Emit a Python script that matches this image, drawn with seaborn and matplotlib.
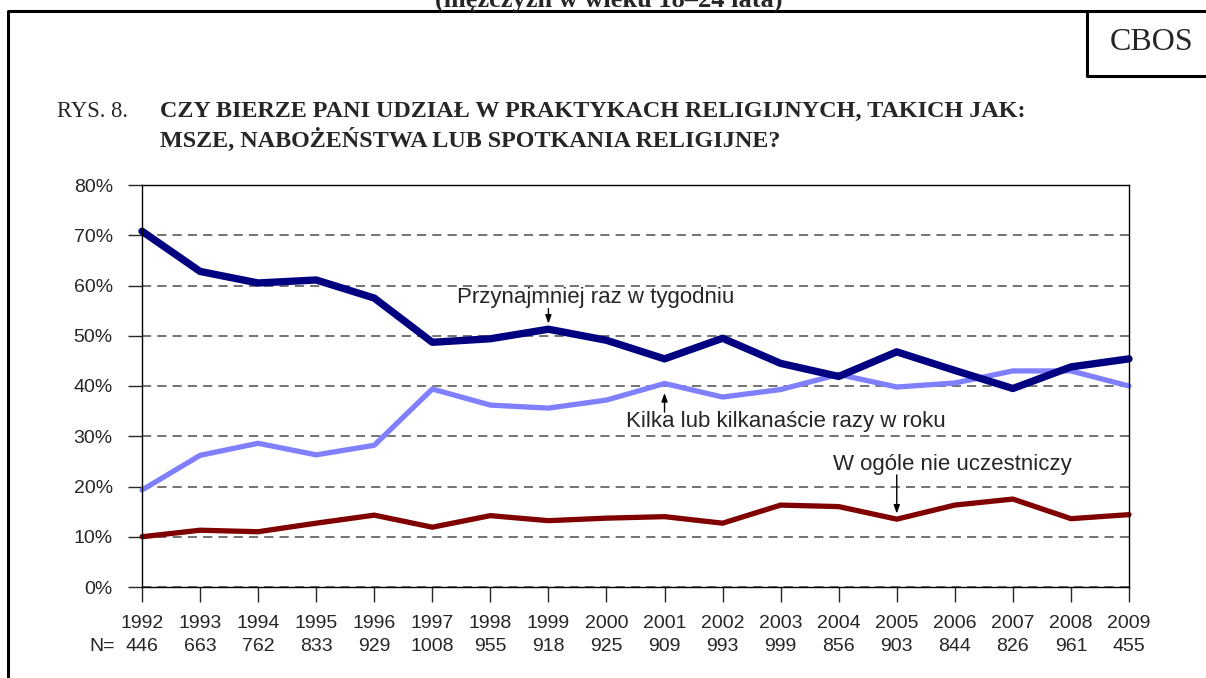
import matplotlib
matplotlib.use('Agg')
import matplotlib.pyplot as plt
from matplotlib.lines import Line2D
import pandas as pd
import seaborn as sns

# Data (percent)
years = list(range(1992, 2010))
n_sizes = [446, 663, 762, 833, 929, 1008, 955, 918, 925, 909, 993, 999, 856, 903, 844, 826, 961, 455]
weekly = [70.8, 62.8, 60.5, 61.1, 57.5, 48.7, 49.4, 51.3, 49.1, 45.4, 49.5, 44.5, 41.9, 46.8, 43.1, 39.5, 43.8, 45.4]
few_times = [19.3, 26.2, 28.6, 26.3, 28.2, 39.4, 36.2, 35.6, 37.2, 40.5, 37.8, 39.3, 42.3, 39.8, 40.6, 43.0, 43.0, 40.0]
never = [10.0, 11.3, 11.0, 12.7, 14.3, 11.9, 14.2, 13.2, 13.7, 14.0, 12.7, 16.3, 16.0, 13.5, 16.3, 17.5, 13.6, 14.4]
y_ticks = [0, 10, 20, 30, 40, 50, 60, 70, 80]

series_names = ['Przynajmniej raz w tygodniu', 'Kilka lub kilkanaście razy w roku', 'W ogóle nie uczestniczy']
colors = {series_names[0]: '#000080', series_names[1]: '#8080FF', series_names[2]: '#800000'}
widths = {series_names[0]: 5.3, series_names[1]: 3.8, series_names[2]: 3.8}

df = pd.DataFrame({
    'rok': years * 3,
    'proc': weekly + few_times + never,
    'seria': [series_names[0]] * 18 + [series_names[1]] * 18 + [series_names[2]] * 18,
})

sns.set_style('white')
plt.rcParams['font.family'] = ['Liberation Sans', 'DejaVu Sans']

W, H = 1206, 678
fig = plt.figure(figsize=(W / 100, H / 100), dpi=100)

def fx(px):
    return px / W

def fy(py):
    return 1 - py / H

ax = fig.add_axes([fx(142), fy(587), (1129 - 142) / W, (587 - 185) / H])

for name in [series_names[1], series_names[2], series_names[0]]:
    sub = df[df['seria'] == name]
    sns.lineplot(data=sub, x='rok', y='proc', color=colors[name], linewidth=widths[name],
                 ax=ax, legend=False, clip_on=False, solid_joinstyle='round', solid_capstyle='round')

ax.set_xlim(1992, 2009)
ax.set_ylim(0, 80)
ax.set_xlabel('')
ax.set_ylabel('')
ax.set_yticks(y_ticks)
ax.set_yticklabels([f'{v}%' for v in y_ticks])
ax.set_xticks(years)
ax.set_xticklabels([str(y) for y in years])
ax.tick_params(axis='y', direction='out', length=10, width=1, pad=11, labelsize=14, left=True)
ax.tick_params(axis='x', direction='out', length=11, width=1, pad=9, labelsize=14, bottom=True)
ax.yaxis.grid(True, linestyle=(0, (6, 4)), color='#4d4d4d', linewidth=1.1)
ax.xaxis.grid(False)
for sp in ax.spines.values():
    sp.set_color('black')
    sp.set_linewidth(1)

# N row under the years
xform = ax.get_xaxis_transform()
for yr, n in zip(years, n_sizes):
    ax.text(yr, -0.147, str(n), transform=xform, ha='center', va='center', fontsize=14)
ax.text(-0.0275, -0.147, 'N=', transform=ax.transAxes, ha='right', va='center', fontsize=14)

# series labels with arrows
arrow = dict(arrowstyle='-|>,head_length=0.5,head_width=0.18', color='black', lw=1, shrinkA=0, shrinkB=0)
ax.text(1997.43, 56.5, series_names[0], fontsize=16, va='baseline', ha='left')
ax.annotate('', xy=(1999, 52.4), xytext=(1999, 55.4), arrowprops=arrow)
ax.text(2000.34, 31.8, series_names[1], fontsize=16, va='baseline', ha='left')
ax.annotate('', xy=(2001, 38.6), xytext=(2001, 34.8), arrowprops=arrow)
ax.text(2003.9, 23.2, series_names[2], fontsize=16, va='baseline', ha='left')
ax.annotate('', xy=(2005, 14.6), xytext=(2005, 22.3), arrowprops=arrow)

# titles
serif = ['Liberation Serif', 'DejaVu Serif']
fig.text(fx(609), fy(7), '(mężczyzn w wieku 18–24 lata)', family=serif, fontsize=19,
         fontweight='bold', ha='center', va='baseline')
fig.text(fx(57), fy(117), 'RYS. 8.', family=serif, fontsize=16.3, ha='left', va='baseline')
fig.text(fx(160), fy(117), 'CZY BIERZE PANI UDZIAŁ W PRAKTYKACH RELIGIJNYCH, TAKICH JAK:',
         family=serif, fontsize=17.4, fontweight='bold', ha='left', va='baseline')
fig.text(fx(160), fy(147), 'MSZE, NABOŻEŃSTWA LUB SPOTKANIA RELIGIJNE?',
         family=serif, fontsize=17.4, fontweight='bold', ha='left', va='baseline')
fig.text(fx(1152), fy(42), 'CBOS', family=serif, fontsize=23, ha='center', va='center')

# page frame and CBOS box
frame_kw = dict(color='black', linewidth=2.2, transform=fig.transFigure)
fig.add_artist(Line2D([fx(8), fx(8), 1.0], [0.0, fy(11), fy(11)], **frame_kw))
fig.add_artist(Line2D([fx(1087), fx(1087), 1.0], [fy(11), fy(76), fy(76)], **frame_kw))

fig.savefig('out.png', dpi=100)
